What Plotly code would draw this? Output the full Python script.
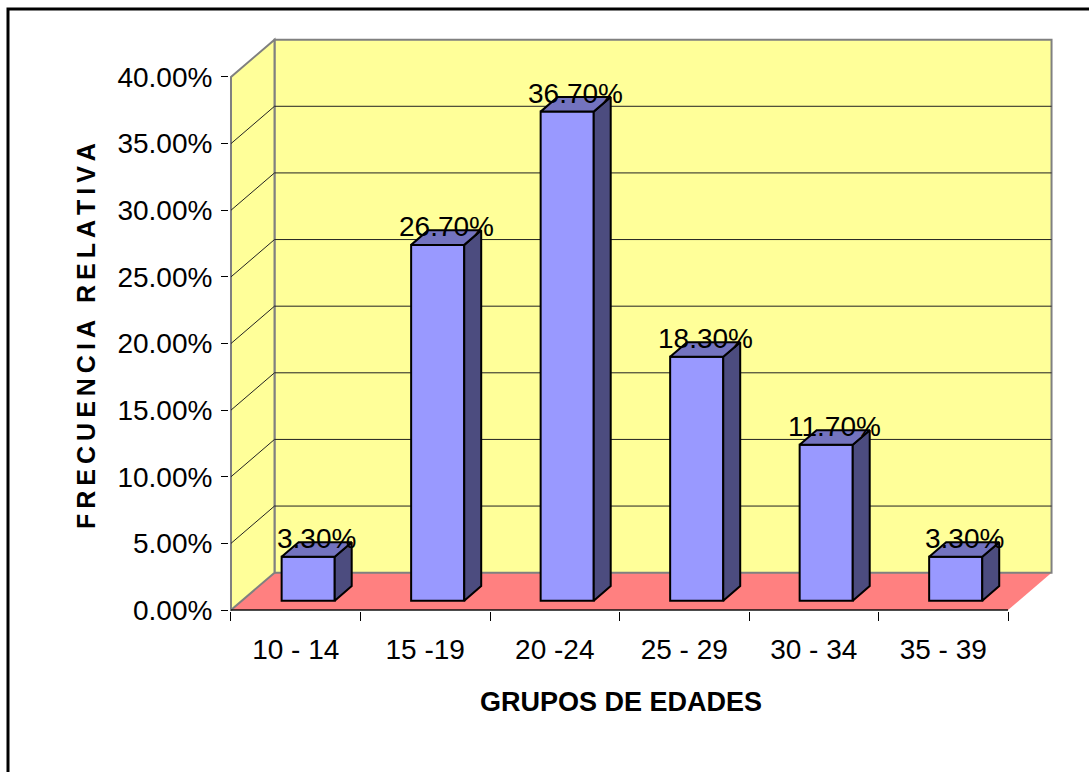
import plotly.graph_objects as go

# ---- data -------------------------------------------------------------
categories = ["10 - 14", "15 -19", "20 -24", "25 - 29", "30 - 34", "35 - 39"]
values = [3.3, 26.7, 36.7, 18.3, 11.7, 3.3]          # percent
y_ticks = [0, 5, 10, 15, 20, 25, 30, 35, 40]
y_tick_text = [f"{v:.2f}%" for v in y_ticks]
value_text = [f"{v:.2f}%" for v in values]

# ---- page / plot-area geometry ------------------------------------------
W, H = 1089, 772
ML, MR, MT, MB = 229, 35, 37, 161
PW, PH = W - ML - MR, H - MT - MB

# oblique "3-D" depth vector in data units (x: categories, y: percent)
DEPTH_X = 0.336
DEPTH_Y = 2.8
BAR_W = 0.41      # bar width, category units
BAR_OFF = 0.25    # front face of bars, fraction of floor depth
BAR_D = 0.39      # bar depth, fraction of floor depth
BAR_NUDGE = 0.012 # small horizontal shift of the bar block

n = len(categories)
x_lo, x_hi = -0.5, n - 0.5
y_top = y_ticks[-1]

X_RANGE = [-0.5154, 5.855]
Y_RANGE = [-0.075, 43.0]

FONT = "Liberation Sans, Arial, sans-serif"
YELLOW = "#FFFF99"
FLOOR = "#FF8080"
WALL_EDGE = "#808080"
FRONT = "#9999FF"
TOP = "#7373BF"
SIDE = "#4C4C7F"


def paper_x(px):
    return (px - ML) / PW


def paper_y(py):
    return (H - MB - py) / PH


def path(points):
    return "M " + " L ".join(f"{x},{y}" for x, y in points) + " Z"


shapes = []
# floor
shapes.append(dict(type="path", xref="x", yref="y", layer="below",
                   path=path([(x_lo, 0), (x_hi, 0), (x_hi + DEPTH_X, DEPTH_Y),
                              (x_lo + DEPTH_X, DEPTH_Y)]),
                   fillcolor=FLOOR, line=dict(width=0)))
# back wall
shapes.append(dict(type="rect", xref="x", yref="y", layer="below",
                   x0=x_lo + DEPTH_X, x1=x_hi + DEPTH_X, y0=DEPTH_Y, y1=y_top + DEPTH_Y,
                   fillcolor=YELLOW, line=dict(color=WALL_EDGE, width=2)))
# side wall
shapes.append(dict(type="path", xref="x", yref="y", layer="below",
                   path=path([(x_lo, 0), (x_lo, y_top), (x_lo + DEPTH_X, y_top + DEPTH_Y),
                              (x_lo + DEPTH_X, DEPTH_Y)]),
                   fillcolor=YELLOW, line=dict(color=WALL_EDGE, width=2)))
# gridlines on both walls
for k in y_ticks[1:-1]:
    shapes.append(dict(type="line", xref="x", yref="y", layer="below",
                       x0=x_lo + DEPTH_X, x1=x_hi + DEPTH_X, y0=k + DEPTH_Y, y1=k + DEPTH_Y,
                       line=dict(color="#222222", width=1)))
    shapes.append(dict(type="line", xref="x", yref="y", layer="below",
                       x0=x_lo, x1=x_lo + DEPTH_X, y0=k, y1=k + DEPTH_Y,
                       line=dict(color="#222222", width=1)))
# front edge of the floor
shapes.append(dict(type="line", xref="x", yref="y", layer="below",
                   x0=x_lo, x1=x_hi, y0=0, y1=0, line=dict(color="#111111", width=1.5)))
# outer frame
shapes.append(dict(type="rect", xref="paper", yref="paper",
                   x0=paper_x(8), x1=paper_x(W + 20), y0=paper_y(9), y1=paper_y(H + 20),
                   line=dict(color="black", width=3), fillcolor="rgba(0,0,0,0)"))

# ---- bars -------------------------------------------------------------
front_x = [i + BAR_OFF * DEPTH_X + BAR_NUDGE for i in range(n)]
base_y = BAR_OFF * DEPTH_Y
bdx, bdy = BAR_D * DEPTH_X, BAR_D * DEPTH_Y

side_x, side_y, top_x, top_y = [], [], [], []
for xc, v in zip(front_x, values):
    xl, xr = xc - BAR_W / 2, xc + BAR_W / 2
    y0, y1 = base_y, base_y + v
    side_x += [xr, xr, xr + bdx, xr + bdx, xr, None]
    side_y += [y0, y1, y1 + bdy, y0 + bdy, y0, None]
    top_x += [xl, xr, xr + bdx, xl + bdx, xl, None]
    top_y += [y1, y1, y1 + bdy, y1 + bdy, y1, None]

fig = go.Figure()
fig.add_trace(go.Bar(x=front_x, y=values, base=base_y, width=BAR_W,
                     marker=dict(color=FRONT, line=dict(color="black", width=2)),
                     hoverinfo="skip", showlegend=False))
fig.add_trace(go.Scatter(x=side_x, y=side_y, mode="lines", fill="toself",
                         fillcolor=SIDE, line=dict(color="black", width=2),
                         hoverinfo="skip", showlegend=False))
fig.add_trace(go.Scatter(x=top_x, y=top_y, mode="lines", fill="toself",
                         fillcolor=TOP, line=dict(color="black", width=2),
                         hoverinfo="skip", showlegend=False))
# carrier trace for the tick-mark axis
fig.add_trace(go.Scatter(x=[x_lo], y=[0], xaxis="x2", mode="markers",
                         marker=dict(opacity=0), hoverinfo="skip", showlegend=False))

annotations = []
for xc, v, t in zip(front_x, values, value_text):
    annotations.append(dict(x=xc + bdx / 2, y=base_y + v + bdy / 2, xref="x", yref="y",
                            text=t, showarrow=False, yshift=11,
                            font=dict(family=FONT, size=28, color="black")))

ytitle = "\u2009".join("FRECUENCIA RELATIVA")
annotations.append(dict(x=paper_x(86), y=paper_y(336), xref="paper", yref="paper",
                        text=ytitle, textangle=-90, showarrow=False,
                        xanchor="center", yanchor="middle",
                        font=dict(family=FONT, size=25, color="black", weight="bold")))
annotations.append(dict(x=paper_x(621), y=paper_y(702), xref="paper", yref="paper",
                        text="GRUPOS DE EDADES", showarrow=False,
                        xanchor="center", yanchor="middle",
                        font=dict(family=FONT, size=27, color="black", weight="bold")))

fig.update_layout(
    width=W, height=H,
    margin=dict(l=ML, r=MR, t=MT, b=MB, autoexpand=False),
    paper_bgcolor="white", plot_bgcolor="white",
    barmode="overlay",
    shapes=shapes, annotations=annotations,
    xaxis=dict(range=X_RANGE, tickmode="array", tickvals=list(range(n)), ticktext=categories,
               ticks="", showgrid=False, zeroline=False, showline=False,
               tickfont=dict(family=FONT, size=28, color="black"),
               ticklabelstandoff=19, fixedrange=True),
    xaxis2=dict(range=X_RANGE, overlaying="x", anchor="y", side="bottom",
                tickmode="array", tickvals=[i - 0.5 for i in range(n + 1)],
                ticks="outside", ticklen=9, tickwidth=1, tickcolor="black",
                showticklabels=False, showgrid=False, zeroline=False, showline=False,
                fixedrange=True),
    yaxis=dict(range=Y_RANGE, tickmode="array", tickvals=y_ticks, ticktext=y_tick_text,
               ticks="outside", ticklen=7, tickwidth=1, tickcolor="black",
               showgrid=False, zeroline=False, showline=False,
               tickfont=dict(family=FONT, size=28, color="black"),
               ticklabelstandoff=3, fixedrange=True),
    showlegend=False,
)

fig.write_html("out.html")
